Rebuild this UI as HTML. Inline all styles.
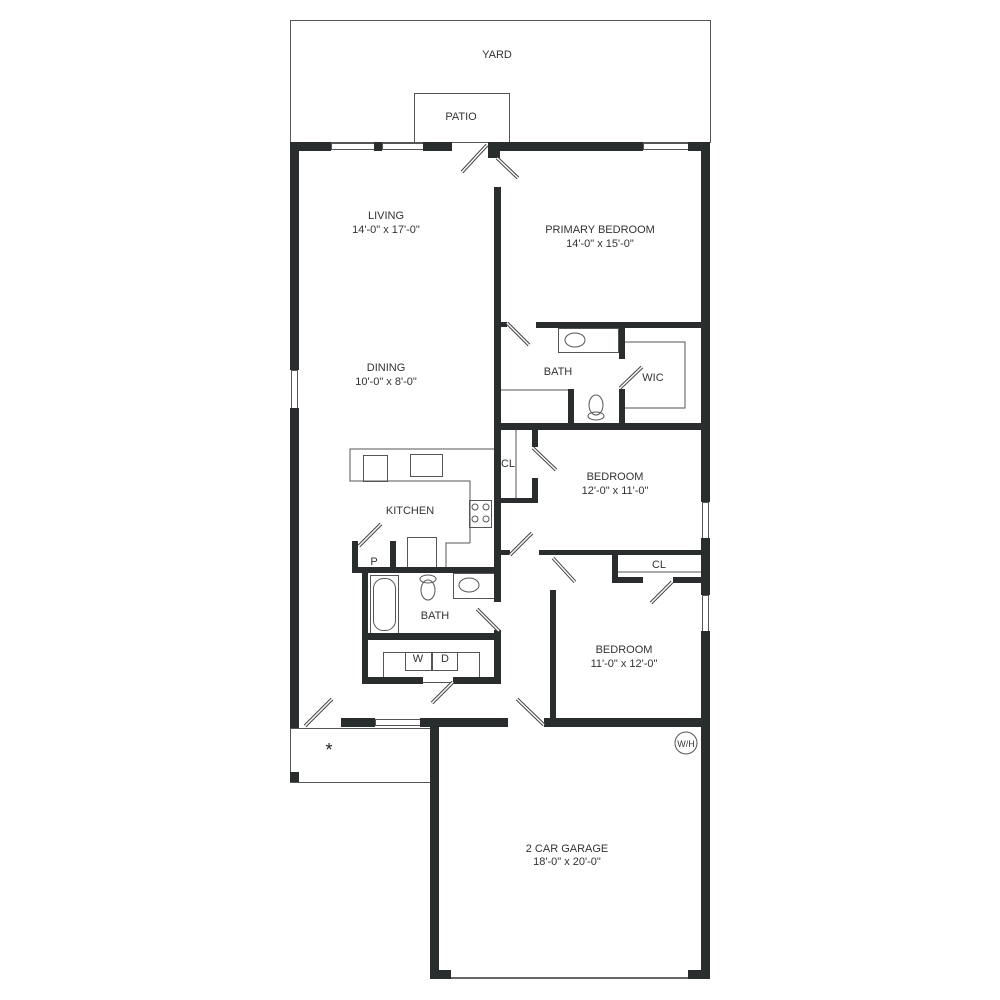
<!DOCTYPE html>
<html><head><style>
body{margin:0;background:#fff}
svg{display:block}
text{font-family:"Liberation Sans",sans-serif;font-size:11px;fill:#333;text-anchor:middle}
</style></head><body>
<svg width="1000" height="1000" viewBox="0 0 1000 1000">
<g fill="none" stroke="#555" stroke-width="1">
<rect x="290.5" y="20.5" width="420" height="122"/>
<rect x="414.5" y="93.5" width="95" height="49"/>
<rect x="290.5" y="728.5" width="140" height="54"/>
<rect x="331.5" y="143.5" width="43" height="6"/><rect x="382.5" y="143.5" width="41" height="6"/>
<rect x="643.5" y="143.5" width="45" height="6"/>
<rect x="291.5" y="370.5" width="6" height="38"/>
<rect x="702.5" y="502.5" width="6" height="36"/><rect x="702.5" y="595.5" width="6" height="36"/>
<rect x="375.5" y="719.5" width="45" height="6"/>
<rect x="558.5" y="328.5" width="60" height="24"/>
<polyline points="625,342 685,342 685,408 625,408"/>
<line x1="501" y1="390" x2="568" y2="390"/>
<line x1="516" y1="430" x2="516" y2="498"/>
<line x1="618" y1="572" x2="701" y2="572"/>
<polyline points="470,543 470,481 350,481 350,449 497,449"/>
<polyline points="470,543 446,543 446,567"/>
<rect x="469.5" y="500.5" width="22" height="27"/>
<circle cx="475" cy="507" r="3"/><circle cx="486" cy="507" r="3"/><circle cx="475" cy="519" r="3"/><circle cx="486" cy="519" r="3"/>
<rect x="363.5" y="455.5" width="24" height="26"/>
<rect x="410.5" y="454.5" width="32" height="22"/>
<rect x="407.5" y="537.5" width="29" height="30"/>
<rect x="370.5" y="575.5" width="28" height="58"/>
<rect x="373.5" y="578.5" width="22" height="52" rx="10"/>
<rect x="453.5" y="573.5" width="44" height="25"/>
<ellipse cx="469" cy="585" rx="10" ry="7"/>
<ellipse cx="428" cy="590" rx="7" ry="10"/><ellipse cx="428" cy="579" rx="8" ry="4"/>
<ellipse cx="575" cy="340" rx="10" ry="7"/>
<ellipse cx="596" cy="405" rx="7" ry="10"/><ellipse cx="596" cy="416" rx="8" ry="4"/>
<rect x="383.5" y="652.5" width="96" height="30"/>
<rect x="405.5" y="652.5" width="26" height="18"/><rect x="432.5" y="652.5" width="25" height="18"/>
<circle cx="686" cy="743" r="11"/>
</g>
<line x1="439" y1="978" x2="701" y2="978" stroke="#666" stroke-width="2"/>
<g fill="#2a2d2d">
<rect x="290" y="142" width="41" height="9"/><rect x="374" y="142" width="8" height="9"/>
<rect x="423" y="142" width="29" height="9"/><rect x="488" y="142" width="155" height="9"/>
<rect x="688" y="142" width="22" height="9"/><rect x="488" y="150" width="12" height="8"/>
<rect x="290" y="142" width="9" height="228"/><rect x="290" y="408" width="9" height="320"/>
<rect x="290" y="772" width="9" height="10"/>
<rect x="701" y="142" width="9" height="360"/><rect x="701" y="538" width="9" height="57"/>
<rect x="701" y="631" width="9" height="348"/>
<rect x="494" y="187" width="7" height="415"/>
<rect x="501" y="322" width="6" height="5"/>
<rect x="536" y="322" width="174" height="6"/>
<rect x="619" y="328" width="6" height="31"/><rect x="619" y="389" width="6" height="39"/>
<rect x="568" y="389" width="6" height="39"/>
<rect x="494" y="423" width="216" height="7"/>
<rect x="532" y="430" width="6" height="17"/><rect x="532" y="478" width="6" height="25"/>
<rect x="501" y="498" width="37" height="5"/>
<rect x="501" y="550" width="9" height="5"/>
<rect x="539" y="550" width="171" height="5"/>
<rect x="612" y="555" width="6" height="28"/><rect x="612" y="577" width="31" height="6"/>
<rect x="673" y="577" width="28" height="6"/>
<rect x="550" y="590" width="6" height="130"/>
<rect x="544" y="718" width="166" height="9"/>
<rect x="420" y="718" width="88" height="9"/><rect x="341" y="718" width="34" height="9"/>
<rect x="430" y="727" width="9" height="252"/>
<rect x="430" y="970" width="21" height="9"/><rect x="688" y="970" width="22" height="9"/>
<rect x="352" y="541" width="6" height="32"/><rect x="390" y="541" width="6" height="26"/>
<rect x="352" y="567" width="149" height="6"/>
<rect x="362" y="573" width="6" height="111"/>
<rect x="362" y="633" width="139" height="7"/>
<rect x="494" y="630" width="7" height="54"/>
<rect x="362" y="677" width="61" height="7"/><rect x="453" y="677" width="48" height="7"/>
</g>
<g stroke-linecap="butt">
<g stroke="#444" stroke-width="3.5">
<line x1="462" y1="172" x2="487" y2="145"/><line x1="497" y1="158" x2="518" y2="178"/>
<line x1="507" y1="323" x2="529" y2="345"/><line x1="620" y1="388" x2="642" y2="367"/>
<line x1="533" y1="448" x2="556" y2="470"/><line x1="510" y1="555" x2="532" y2="533"/>
<line x1="553" y1="558" x2="575" y2="582"/><line x1="651" y1="603" x2="672" y2="582"/>
<line x1="517" y1="699" x2="544" y2="725"/><line x1="305" y1="726" x2="332" y2="699"/>
<line x1="359" y1="546" x2="381" y2="524"/><line x1="477" y1="609" x2="499" y2="631"/>
<line x1="432" y1="703" x2="453" y2="682"/>
</g>
<g stroke="#fff" stroke-width="1.5">
<line x1="462" y1="172" x2="487" y2="145"/><line x1="497" y1="158" x2="518" y2="178"/>
<line x1="507" y1="323" x2="529" y2="345"/><line x1="620" y1="388" x2="642" y2="367"/>
<line x1="533" y1="448" x2="556" y2="470"/><line x1="510" y1="555" x2="532" y2="533"/>
<line x1="553" y1="558" x2="575" y2="582"/><line x1="651" y1="603" x2="672" y2="582"/>
<line x1="517" y1="699" x2="544" y2="725"/><line x1="305" y1="726" x2="332" y2="699"/>
<line x1="359" y1="546" x2="381" y2="524"/><line x1="477" y1="609" x2="499" y2="631"/>
<line x1="432" y1="703" x2="453" y2="682"/>
</g>
</g>
<text x="497" y="58">YARD</text>
<text x="461" y="120">PATIO</text>
<text x="386" y="219">LIVING</text><text x="386" y="233">14'-0" x 17'-0"</text>
<text x="600" y="233">PRIMARY BEDROOM</text><text x="600" y="247">14'-0" x 15'-0"</text>
<text x="386" y="371">DINING</text><text x="386" y="385">10'-0" x 8'-0"</text>
<text x="558" y="375">BATH</text><text x="653" y="381">WIC</text>
<text x="508" y="467">CL</text>
<text x="615" y="480">BEDROOM</text><text x="615" y="494">12'-0" x 11'-0"</text>
<text x="410" y="514">KITCHEN</text>
<text x="374" y="565">P</text>
<text x="659" y="568">CL</text>
<text x="435" y="619">BATH</text>
<text x="418" y="662">W</text><text x="445" y="662">D</text>
<text x="624" y="653">BEDROOM</text><text x="624" y="667">11'-0" x 12'-0"</text>
<text x="686" y="747" style="font-size:9px">W/H</text>
<text x="329" y="756" style="font-size:18px;fill:#222">*</text>
<text x="567" y="852">2 CAR GARAGE</text><text x="567" y="865">18'-0" x 20'-0"</text>
</svg>
</body></html>
